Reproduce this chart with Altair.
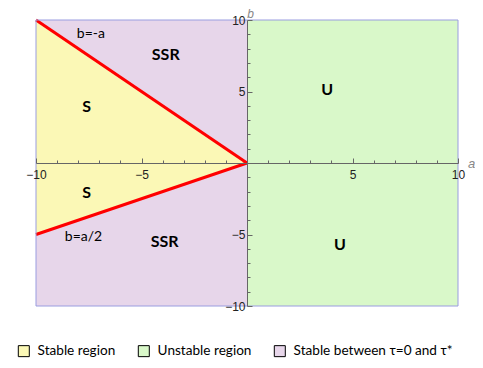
import altair as alt
import pandas as pd

W, H = 422, 286

# ---- data ----
region_names = ["Stable region", "Unstable region", "Stable between τ=0 and τ*"]
region_colors = ["#fbf8b6", "#d9f8c9", "#e7d6ea"]

rect_region = ["Stable between τ=0 and τ*", "Unstable region"]
rect_a1 = [-10, 0]
rect_a2 = [0, 10]
rect_b1 = [-10, -10]
rect_b2 = [10, 10]

tri_region = ["Stable region", "Stable region"]
tri_a = [-10, 0]
tri_upper = [10, 0]    # b = -a
tri_lower = [-5, 0]    # b = a/2

line_id = ["b=-a", "b=-a", "b=a/2", "b=a/2"]
line_a = [-10, 0, -10, 0]
line_b = [10, 0, -5, 0]

label_text = ["S", "S", "SSR", "SSR", "U", "U"]
label_a = [-7.6, -7.6, -3.85, -3.9, 3.8, 4.4]
label_b = [3.9, -2.1, 7.55, -5.5, 5.1, -5.7]

eq_text = ["b=-a", "b=a/2"]
eq_a = [-7.4, -7.75]
eq_b = [9.0, -5.2]

tick_values = [-10, -9, -8, -7, -6, -5, -4, -3, -2, -1, 1, 2, 3, 4, 5, 6, 7, 8, 9, 10]
label_values = [-10, -5, 5, 10]

# ---- frames ----
rect_df = pd.DataFrame({"region": rect_region, "a1": rect_a1, "a2": rect_a2,
                        "b1": rect_b1, "b2": rect_b2})
tri_df = pd.DataFrame({"region": tri_region, "a": tri_a, "upper": tri_upper, "lower": tri_lower})
line_df = pd.DataFrame({"id": line_id, "a": line_a, "b": line_b})
lab_df = pd.DataFrame({"t": label_text, "a": label_a, "b": label_b})
eq_df = pd.DataFrame({"t": eq_text, "a": eq_a, "b": eq_b})

xs = alt.Scale(domain=[-10, 10], nice=False, zero=False)
ys = alt.Scale(domain=[-10, 10], nice=False, zero=False)

AX = "#666666"
tick_cond = {"condition": {"test": "datum.value % 5 === 0", "value": 5}, "value": 3}

top_axis = alt.Axis(orient="top", offset=-H / 2, values=tick_values, labels=False,
                    domain=True, domainColor=AX, tickColor=AX, tickSize=tick_cond,
                    grid=False, title=None, zindex=1)
right_axis = alt.Axis(orient="right", offset=-W / 2, values=tick_values, labels=False,
                      domain=True, domainColor=AX, tickColor=AX, tickSize=tick_cond,
                      grid=False, title=None, zindex=1)
bottom_axis = alt.Axis(orient="bottom", offset=-H / 2, values=label_values, ticks=False,
                       tickSize=0, domain=False, grid=False, labelPadding=6,
                       labelFont="Liberation Sans", labelFontSize=12, labelColor="#222222",
                       labelFlush=False, labelOverlap=False,
                       title="a", titleX=W + 13, titleY=4, titleBaseline="alphabetic",
                       titleFontStyle="italic", titleFontWeight="normal", titleColor="#888888",
                       titleFont="Liberation Sans", titleFontSize=13, titleAlign="center",
                       zindex=1)
left_axis = alt.Axis(orient="left", offset=-W / 2, values=label_values, ticks=False,
                     tickSize=0, domain=False, grid=False, labelPadding=2,
                     labelFont="Liberation Sans", labelFontSize=12, labelColor="#222222",
                     labelFlush=False, labelOverlap=False,
                     title="b", titleX=3, titleY=-3, titleAngle=0, titleBaseline="alphabetic",
                     titleFontStyle="italic", titleFontWeight="normal", titleColor="#888888",
                     titleFont="Liberation Sans", titleFontSize=12, titleAlign="center",
                     zindex=1)

color_scale = alt.Scale(domain=region_names, range=region_colors)
legend = alt.Legend(orient="none", direction="horizontal", legendX=-19, legendY=324,
                    title=None, symbolType="square", symbolSize=121,
                    symbolStrokeColor="black", symbolStrokeWidth=1, symbolOpacity=1,
                    labelFont="Lato", labelFontSize=13.6, labelColor="black", labelLimit=300,
                    labelOffset=7, columnPadding=20, padding=0)

rects = alt.Chart(rect_df).mark_rect(opacity=1).encode(
    x=alt.X("a1:Q", scale=xs, axis=top_axis), x2="a2:Q",
    y=alt.Y("b1:Q", scale=ys, axis=right_axis), y2="b2:Q",
    color=alt.Color("region:N", scale=color_scale, legend=legend),
)

tri = alt.Chart(tri_df).mark_area(opacity=1).encode(
    x=alt.X("a:Q", scale=xs, axis=bottom_axis),
    y=alt.Y("upper:Q", scale=ys, axis=left_axis), y2="lower:Q",
    color=alt.Color("region:N", scale=color_scale, legend=legend),
)

lines = alt.Chart(line_df).mark_line(color="#ff0000", strokeWidth=3).encode(
    x=alt.X("a:Q", scale=xs, axis=None),
    y=alt.Y("b:Q", scale=ys, axis=None),
    detail="id:N",
)

labels = alt.Chart(lab_df).mark_text(font="Lato", fontWeight="bold", fontSize=16,
                                      color="black").encode(
    x=alt.X("a:Q", scale=xs, axis=None),
    y=alt.Y("b:Q", scale=ys, axis=None),
    text="t:N",
)

eqs = alt.Chart(eq_df).mark_text(font="Lato", fontSize=14, color="black").encode(
    x=alt.X("a:Q", scale=xs, axis=None),
    y=alt.Y("b:Q", scale=ys, axis=None),
    text="t:N",
)

frame = alt.Chart(pd.DataFrame({"k": [0]})).mark_rect(
    filled=False, stroke="#9a9de0", strokeWidth=1).encode(
    x=alt.value(0), x2=alt.value(W), y=alt.value(0), y2=alt.value(H))

chart = alt.layer(rects, tri, lines, frame, labels, eqs).properties(
    width=W, height=H,
    autosize=alt.AutoSizeParams(type="none"),
    padding={"left": 28, "top": 12, "right": 17, "bottom": 52},
    background="white",
).configure_view(strokeWidth=0)

chart.save("out.html", embed_options={"renderer": "svg", "actions": False})
